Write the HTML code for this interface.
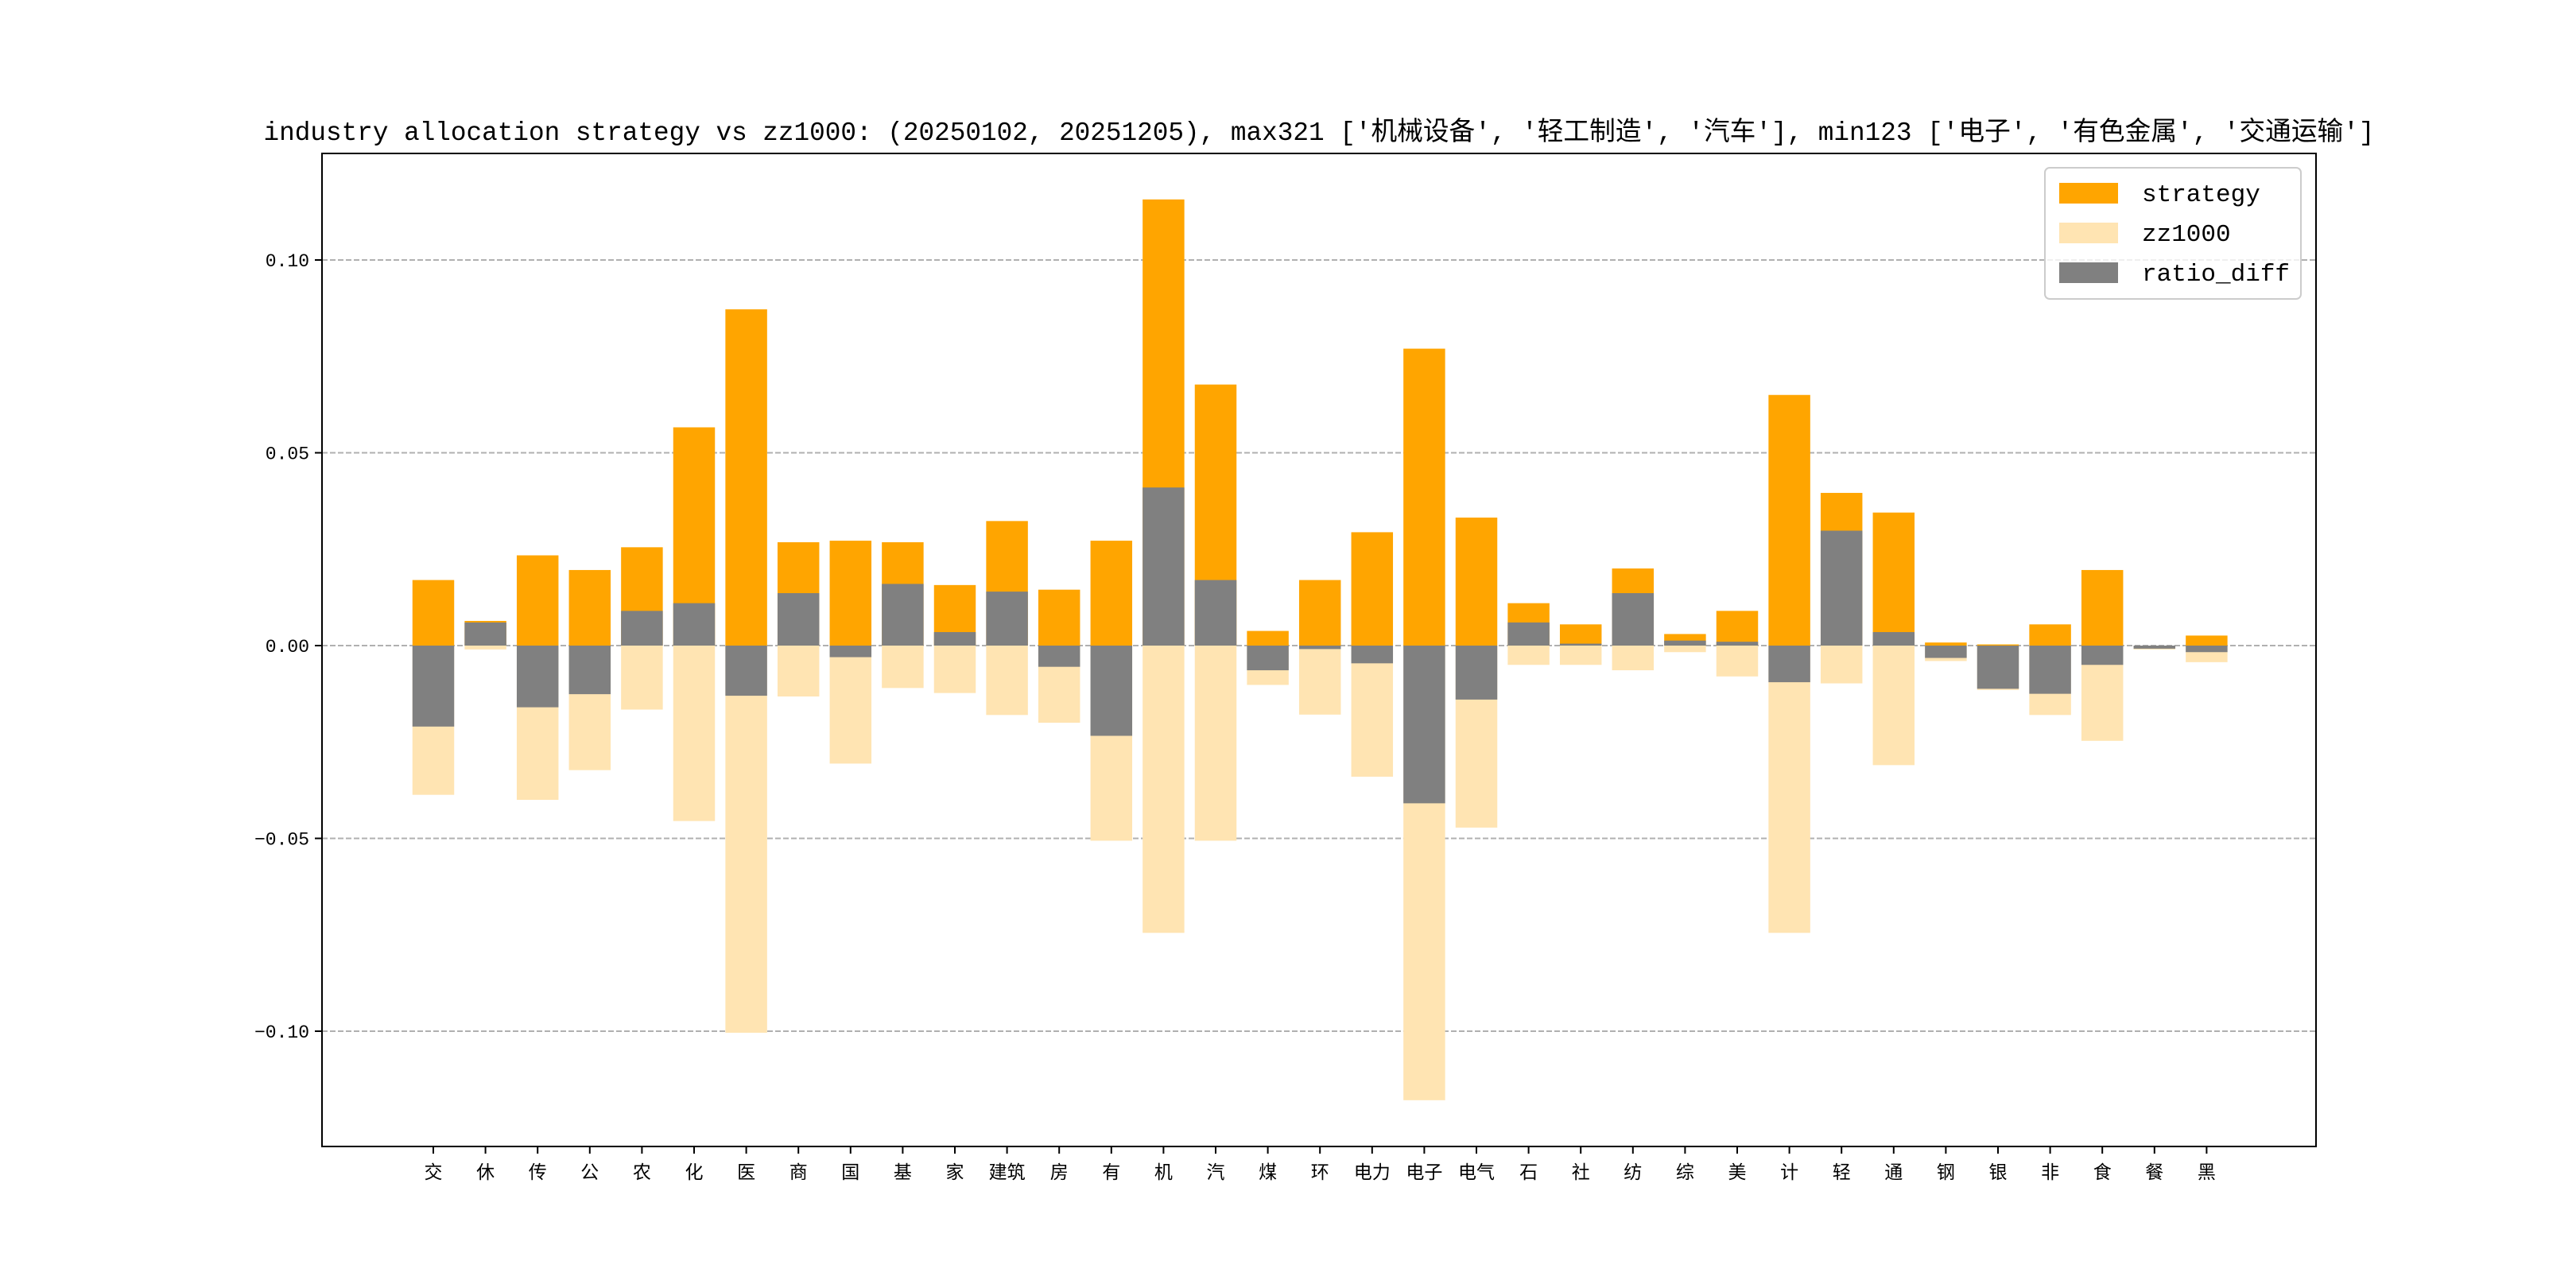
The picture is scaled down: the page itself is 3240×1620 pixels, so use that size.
<!DOCTYPE html>
<html><head><meta charset="utf-8"><style>
html,body{margin:0;padding:0;background:#fff;}
svg{display:block;font-family:"Liberation Mono","WenQuanYi Zen Hei","Noto Sans CJK SC",monospace;}
</style></head><body>
<svg id="chart" width="3240" height="1620" viewBox="0 0 3240 1620" xmlns="http://www.w3.org/2000/svg">
<rect width="3240" height="1620" fill="#fff"/>
<text x="1659" y="176" text-anchor="middle" font-size="33" textLength="2655" lengthAdjust="spacingAndGlyphs">industry allocation strategy vs zz1000: (20250102, 20251205), max321 ['机械设备', '轻工制造', '汽车'], min123 ['电子', '有色金属', '交通运输']</text>
<g id="grid"></g>
<g id="bars"></g>
<g id="axes"></g>
<g id="legend">
<rect x="2572" y="211" width="322" height="165" rx="6" fill="#fff" fill-opacity="0.8" stroke="#ccc" stroke-width="2"/>
<rect x="2590" y="230" width="74" height="26" fill="#FFA500"/>
<text x="2694" y="253" font-size="31">strategy</text>
<rect x="2590" y="280" width="74" height="26" fill="#FFE4B2"/>
<text x="2694" y="303" font-size="31">zz1000</text>
<rect x="2590" y="330" width="74" height="26" fill="#808080"/>
<text x="2694" y="353" font-size="31">ratio_diff</text>
</g>
</svg>
<script>
const categories = ['交','休','传','公','农','化','医','商','国','基','家','建筑','房','有','机','汽','煤','环','电力','电子','电气','石','社','纺','综','美','计','轻','通','钢','银','非','食','餐','黑'];
const strategy = [0.017,0.0064,0.0234,0.0196,0.0255,0.0566,0.0872,0.0268,0.0272,0.0268,0.0157,0.0323,0.0145,0.0272,0.1157,0.0677,0.0038,0.017,0.0294,0.077,0.0332,0.011,0.0055,0.02,0.003,0.009,0.065,0.0396,0.0345,0.0008,0.0003,0.0055,0.0196,0.0,0.0026];
const zz1000 = [-0.0387,-0.001,-0.040,-0.0323,-0.0166,-0.0455,-0.1004,-0.0132,-0.0306,-0.011,-0.0123,-0.018,-0.020,-0.0506,-0.0745,-0.0506,-0.0102,-0.0179,-0.034,-0.1179,-0.0472,-0.005,-0.005,-0.0064,-0.0017,-0.008,-0.0745,-0.0098,-0.031,-0.004,-0.0115,-0.018,-0.0247,-0.001,-0.0043];
const ratioDiff = [-0.021,0.006,-0.016,-0.0126,0.009,0.011,-0.013,0.0136,-0.003,0.016,0.0035,0.014,-0.0055,-0.0234,0.041,0.017,-0.0064,-0.0009,-0.0046,-0.0409,-0.014,0.006,0.0005,0.0136,0.0013,0.001,-0.0095,0.0298,0.0035,-0.0032,-0.0112,-0.0125,-0.005,-0.0008,-0.0017];
const yTicks = [0.10,0.05,0.00,-0.05,-0.10];
const yTickLabels = ['0.10','0.05','0.00','−0.05','−0.10'];

const NS='http://www.w3.org/2000/svg';
const L=405,R=2913,T=193,B=1442;
const X0=545, DX=65.6;
function xs(i){return X0+i*DX;}
function ys(v){return 812-v*4850;}
const BW=DX*0.8;
function mk(tag,attrs,parent){const e=document.createElementNS(NS,tag);for(const k in attrs)e.setAttribute(k,attrs[k]);parent.appendChild(e);return e;}
const grid=document.getElementById('grid'),bars=document.getElementById('bars'),axes=document.getElementById('axes');
yTicks.forEach((v,i)=>{
  const g=mk('line',{x1:L,x2:R,y1:ys(v),y2:ys(v),stroke:'#b0b0b0','stroke-width':2,'stroke-dasharray':'7,3'},grid);
  
  
  const t=mk('line',{x1:L-9,x2:L,y1:ys(v),y2:ys(v),stroke:'#000','stroke-width':2},axes);
  
  
  const lb=mk('text',{x:L-16,y:ys(v)+8,'text-anchor':'end','font-size':23},axes);
  lb.textContent=yTickLabels[i];
  
  
});
function bar(i,v,fill,name){
  const y1=ys(Math.max(v,0)),y2=ys(Math.min(v,0));
  const r=mk('rect',{x:xs(i)-BW/2,y:y1,width:BW,height:Math.max(y2-y1,0.5),fill:fill},bars);
  
  
}
categories.forEach((c,i)=>{
  bar(i,strategy[i],'#FFA500','bar-strategy');
  bar(i,zz1000[i],'#FFE4B2','bar-zz1000');
  bar(i,ratioDiff[i],'#808080','bar-ratio-diff');
  const t=mk('line',{x1:xs(i),x2:xs(i),y1:B,y2:B+9,stroke:'#000','stroke-width':2},axes);
  
  
  const lb=mk('text',{x:xs(i),y:B+40,'text-anchor':'middle','font-size':23},axes);
  lb.textContent=c;
  
  
});
const frame=mk('rect',{x:L,y:T,width:R-L,height:B-T,fill:'none',stroke:'#000','stroke-width':2},axes);


</script>
</body></html>
